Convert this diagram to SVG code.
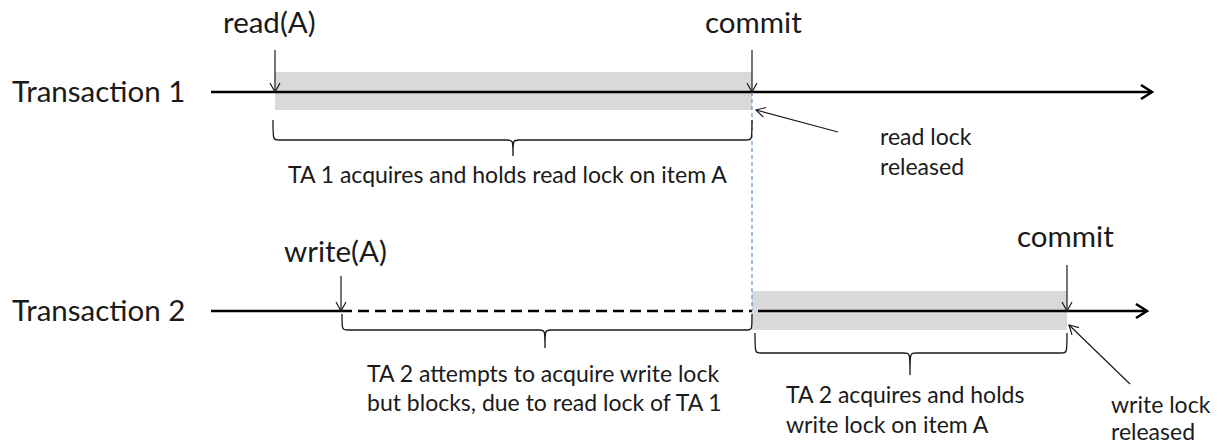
<svg xmlns="http://www.w3.org/2000/svg" width="1229" height="445" viewBox="0 0 1229 445">
<style>
text{font-family:Lato,"Open Sans","DejaVu Sans",sans-serif;fill:#1a1a1a}
.big{font-size:29.5px}
.lbl{font-size:23px}
.axis{stroke:#000;stroke-width:2.5;fill:none}
.ptr{stroke:#1a1a1a;stroke-width:1.2;fill:none}
.brace{stroke:#1a1a1a;stroke-width:1.3;fill:none}
.hold{fill:#d9d9d9}
</style>
<defs>
<marker id="big" markerWidth="16" markerHeight="16" refX="13" refY="8" orient="auto" markerUnits="userSpaceOnUse">
<path d="M2,1 L13,8 L2,15" fill="none" stroke="#000" stroke-width="2.5"/>
</marker>
<marker id="small" markerWidth="12" markerHeight="12" refX="10" refY="6" orient="auto" markerUnits="userSpaceOnUse">
<path d="M1,1 L10,6 L1,11" fill="none" stroke="#1a1a1a" stroke-width="1.2"/>
</marker>
</defs>
<g id="hold-areas">
<rect class="hold" x="275" y="72" width="477" height="38"/>
<rect class="hold" x="752" y="291" width="315" height="39"/>
</g>
<g id="transaction1">
<text class="big" x="12" y="102">Transaction 1</text>
</g>
<g id="transaction2">
<text class="big" x="12" y="321">Transaction 2</text>
</g>
<g id="labels">
<text class="big" x="223" y="33">read(A)</text>
<text class="big" x="705" y="33">commit</text>
<text class="big" x="284" y="262">write(A)</text>
<text class="big" x="1017" y="247">commit</text>
<text class="lbl" x="288" y="183">TA 1 acquires and holds read lock on item A</text>
<text class="lbl" x="880" y="145">read lock</text>
<text class="lbl" x="880" y="175">released</text>
<text class="lbl" x="367" y="382">TA 2 attempts to acquire write lock</text>
<text class="lbl" x="367" y="411">but blocks, due to read lock of TA 1</text>
<text class="lbl" x="786" y="403">TA 2 acquires and holds</text>
<text class="lbl" x="786" y="433">write lock on item A</text>
<text class="lbl" x="1111" y="413">write lock</text>
<text class="lbl" x="1111" y="440">released</text>
</g>
<g id="connectors">
<line class="axis" x1="211" y1="92" x2="1152" y2="92" marker-end="url(#big)"/>
<line class="axis" x1="211" y1="311" x2="341" y2="311"/>
<line class="axis" x1="341" y1="311" x2="752" y2="311" stroke-dasharray="11,6"/>
<line class="axis" x1="758" y1="311" x2="1147" y2="311" marker-end="url(#big)"/>
<line x1="752" y1="92" x2="752" y2="311" stroke="#4a7ebb" stroke-width="1" stroke-dasharray="4,3"/>
<line class="ptr" x1="275" y1="50" x2="275" y2="92" marker-end="url(#small)"/>
<line class="ptr" x1="752" y1="50" x2="752" y2="92" marker-end="url(#small)"/>
<line class="ptr" x1="341" y1="276" x2="341" y2="311" marker-end="url(#small)"/>
<line class="ptr" x1="1067" y1="265" x2="1067" y2="311" marker-end="url(#small)"/>
<line class="ptr" x1="838" y1="132" x2="756" y2="110" marker-end="url(#small)"/>
<line class="ptr" x1="1130" y1="384" x2="1069" y2="325" marker-end="url(#small)"/>
<path class="brace" d="M273,120 C273,140 273,140 279,140 L507,140 C513,140 513,140 513,156 C513,140 513,140 519,140 L746,140 C752,140 752,140 752,120"/>
<path class="brace" d="M342,314 C342,330 342,330 348,330 L539,330 C545,330 545,330 545,348 C545,330 545,330 551,330 L747,330 C752,330 752,330 752,314"/>
<path class="brace" d="M755,333 C755,353 755,353 761,353 L904,353 C910,353 910,353 910,375 C910,353 910,353 916,353 L1061,353 C1067,353 1067,353 1067,333"/>
</g>
</svg>
